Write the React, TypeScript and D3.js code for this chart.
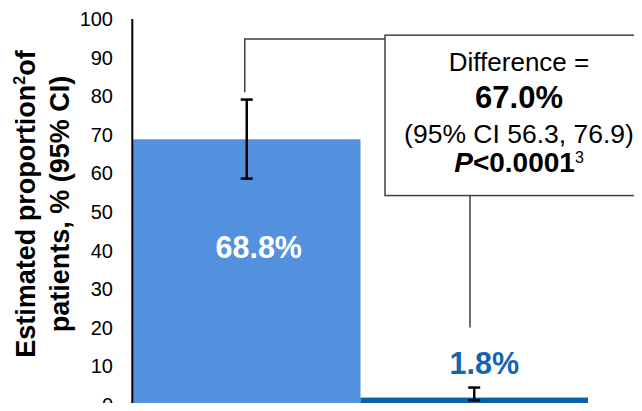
import React from 'react'
import * as d3 from 'd3'

// data
const groups = ['Active', 'Control']
const values = [68.8, 1.8]
const ciLow = [58.6, 1.1]
const ciHigh = [79.1, 4.4]
const valueLabels = ['68.8%', '1.8%']
const yTicks = [0, 10, 20, 30, 40, 50, 60, 70, 80, 90, 100]
const barColors = ['#5391DE', '#0861AA']
const labelColors = ['#ffffff', '#1464AE']

const W = 642
const H = 411
const font = 'Liberation Sans, Arial, Helvetica, sans-serif'

export default function App() {
  const x = d3.scaleBand().domain(groups).range([133, 588]).padding(0)
  const y = d3.scaleLinear().domain([0, 100]).range([404.5, 19])

  const c0 = x(groups[0])! + x.bandwidth() / 2
  const boxLeft = 385
  const boxRight = 646
  const boxTop = y(95.8)
  const boxBottom = y(54.2)
  const boxCx = 519
  const capW = 12

  return (
    <div style={{ margin: -8 }}>
      <svg width={W} height={H} style={{ display: 'block', background: '#fff' }} fontFamily={font}>
        {/* bars */}
        {groups.map((g, i) => (
          <rect
            key={g}
            x={x(g)}
            y={y(values[i])}
            width={x.bandwidth()}
            height={y(0) - y(values[i]) + 8}
            fill={barColors[i]}
          />
        ))}

        {/* y axis */}
        <line x1={132.3} x2={132.3} y1={y(100)} y2={y(0)} stroke="#000" strokeWidth={2} />
        {yTicks.map((t) => (
          <text key={t} x={113} y={y(t)} dy="0.36em" textAnchor="end" fontSize={20} fill="#000">
            {t}
          </text>
        ))}

        {/* y axis title */}
        <g transform={`translate(35, 204) rotate(-90)`} fontWeight="bold" fontSize={27} textAnchor="middle">
          <text x={0} y={0}>
            Estimated proportion
            <tspan fontSize={16} dy={-10}>2</tspan>
            <tspan dy={10}>of</tspan>
          </text>
          <text x={0} y={34}>patients, % (95% CI)</text>
        </g>

        {/* error bars */}
        {groups.map((g, i) => {
          const cx = x(g)! + x.bandwidth() / 2
          return (
            <g key={g} stroke="#000" strokeWidth={2.5}>
              <line x1={cx} x2={cx} y1={y(ciLow[i])} y2={y(ciHigh[i])} />
              <line x1={cx - capW / 2} x2={cx + capW / 2} y1={y(ciHigh[i])} y2={y(ciHigh[i])} />
              <line x1={cx - capW / 2} x2={cx + capW / 2} y1={y(ciLow[i])} y2={y(ciLow[i])} />
            </g>
          )
        })}

        {/* value labels */}
        <text x={c0 + 12} y={y(38)} textAnchor="middle" fontWeight="bold" fontSize={30.5} fill={labelColors[0]}>
          {valueLabels[0]}
        </text>
        <text
          x={x(groups[1])! + x.bandwidth() / 2 + 10}
          y={y(values[1]) - 24}
          textAnchor="middle"
          fontWeight="bold"
          fontSize={30.5}
          fill={labelColors[1]}
        >
          {valueLabels[1]}
        </text>

        {/* bracket */}
        <polyline
          points={`${c0 - 2},${y(81)} ${c0 - 2},${y(94.8)} ${boxLeft},${y(94.8)}`}
          fill="none"
          stroke="#404040"
          strokeWidth={1.5}
        />
        <line x1={470} x2={470} y1={boxBottom} y2={y(20)} stroke="#404040" strokeWidth={1.5} />
        <rect
          x={boxLeft}
          y={boxTop}
          width={boxRight - boxLeft}
          height={boxBottom - boxTop}
          fill="#fff"
          stroke="#404040"
          strokeWidth={1.5}
        />

        {/* box text */}
        <g textAnchor="middle" fill="#000">
          <text x={boxCx} y={70.7} fontSize={26}>Difference =</text>
          <text x={boxCx} y={107.7} fontSize={31} fontWeight="bold">67.0%</text>
          <text x={boxCx} y={143} fontSize={26.5}>(95% CI 56.3, 76.9)</text>
          <text x={boxCx} y={172} fontSize={28} fontWeight="bold">
            <tspan fontStyle="italic">P</tspan>
            {'<0.0001'}
            <tspan fontWeight="normal" fontSize={16} dy={-9}>3</tspan>
          </text>
        </g>
      </svg>
    </div>
  )
}
